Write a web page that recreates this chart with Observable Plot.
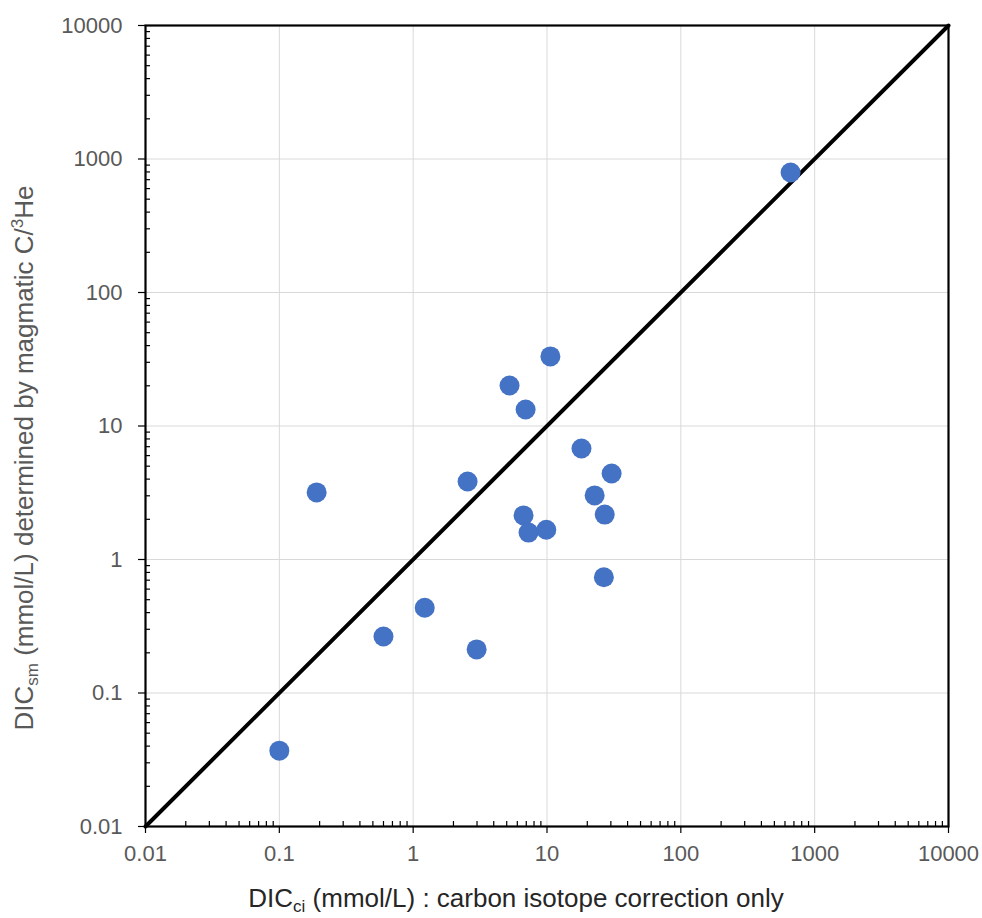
<!DOCTYPE html>
<html>
<head>
<meta charset="utf-8">
<script src="https://cdn.jsdelivr.net/npm/d3@7"></script>
<script src="https://cdn.jsdelivr.net/npm/@observablehq/plot@0.6"></script>
<style>
  body { margin: 0; background: #fff; }
  svg { display: block; }
</style>
</head>
<body>
<div id="chart"></div>
<script>
// Data
const dicCi = [661, 10.6, 5.25, 6.92, 18.1, 30.4, 2.55, 0.19, 22.7, 6.68, 27.0, 7.28, 9.88, 26.6, 1.22, 0.60, 2.98, 0.10];
const dicSm = [792, 33.2, 20.1, 13.3, 6.78, 4.41, 3.84, 3.18, 3.02, 2.14, 2.17, 1.59, 1.67, 0.736, 0.435, 0.265, 0.212, 0.037];
const lineX = [0.01, 10000];
const lineY = [0.01, 10000];
const majorTicks = [0.01, 0.1, 1, 10, 100, 1000, 10000];
const tickLabels = ["0.01", "0.1", "1", "10", "100", "1000", "10000"];
const minorMultipliers = [2, 3, 4, 5, 6, 7, 8, 9];

const points = dicCi.map((x, i) => ({x, y: dicSm[i]}));
const diag = lineX.map((x, i) => ({x, y: lineY[i]}));
const minorTicks = [];
for (const m of majorTicks.slice(0, -1)) for (const k of minorMultipliers) minorTicks.push(+(m * k).toPrecision(3));
const labelOf = d => tickLabels[majorTicks.indexOf(d)] ?? "";

const W = 982, H = 918;
const mL = 145, mR = 34, mT = 25, mB = 92;
const innerW = W - mL - mR, innerH = H - mT - mB;

const svg = Plot.plot({
  width: W,
  height: H,
  marginLeft: mL,
  marginRight: mR,
  marginTop: mT,
  marginBottom: mB,
  style: {fontFamily: "'Liberation Sans', Arial, Helvetica, sans-serif", background: "white"},
  x: {type: "log", domain: [0.01, 10000]},
  y: {type: "log", domain: [0.01, 10000]},
  marks: [
    Plot.gridX(majorTicks, {stroke: "#d9d9d9", strokeOpacity: 1, strokeWidth: 1}),
    Plot.gridY(majorTicks, {stroke: "#d9d9d9", strokeOpacity: 1, strokeWidth: 1}),
    Plot.tickX(minorTicks, {x: d => d, insetTop: innerH - 5, stroke: "black", strokeWidth: 1.2}),
    Plot.tickY(minorTicks, {y: d => d, insetRight: innerW - 5, stroke: "black", strokeWidth: 1.2}),
    Plot.axisX(majorTicks, {tickSize: 7, tickPadding: 12, tickFormat: labelOf, fontSize: 22, color: "#595959", stroke: "black", strokeWidth: 1.2, label: null}),
    Plot.axisY(majorTicks, {tickSize: 7, tickPadding: 16, tickFormat: labelOf, fontSize: 22, color: "#595959", stroke: "black", strokeWidth: 1.2, label: null}),
    Plot.line(diag, {x: "x", y: "y", stroke: "black", strokeWidth: 4}),
    Plot.frame({stroke: "black", strokeWidth: 2.2}),
    Plot.dot(points, {x: "x", y: "y", r: 10, fill: "#4472C4"})
  ]
});

d3.select(svg).selectAll("g[aria-label='x-axis tick label'], g[aria-label='y-axis tick label']").attr("fill", "#595959");

// Axis titles with subscripts / superscripts
const s = d3.select(svg);
const xt = s.append("text")
  .attr("x", 516).attr("y", 907)
  .attr("text-anchor", "middle")
  .attr("font-size", 26)
  .attr("fill", "#262626")
  .attr("font-family", "'Liberation Sans', Arial, sans-serif");
xt.append("tspan").text("DIC");
xt.append("tspan").attr("font-size", 17).attr("dy", 5).text("ci");
xt.append("tspan").attr("dy", -5).text(" (mmol/L) : carbon isotope correction only");

const yt = s.append("text")
  .attr("transform", "translate(33,458) rotate(-90)")
  .attr("text-anchor", "middle")
  .attr("font-size", 26)
  .attr("fill", "#595959")
  .attr("font-family", "'Liberation Sans', Arial, sans-serif");
yt.append("tspan").text("DIC");
yt.append("tspan").attr("font-size", 17).attr("dy", 5).text("sm");
yt.append("tspan").attr("dy", -5).text(" (mmol/L) determined by magmatic C/");
yt.append("tspan").attr("font-size", 17).attr("dy", -10).text("3");
yt.append("tspan").attr("dy", 10).text("He");

document.getElementById("chart").appendChild(svg);
</script>
</body>
</html>
